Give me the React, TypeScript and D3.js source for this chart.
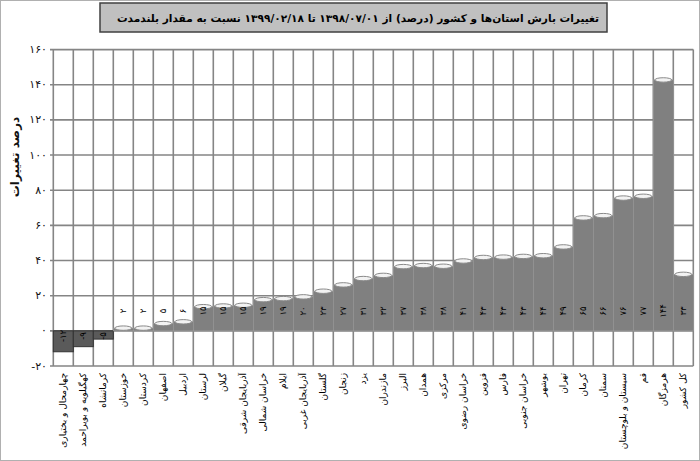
import React from "react";
import * as d3 from "d3";

const categories = [
  "چهارمحال و بختیاری", "کهگیلویه و بویراحمد", "کرمانشاه", "خوزستان", "کردستان",
  "اصفهان", "اردبیل", "لرستان", "گیلان", "آذربایجان شرقی", "خراسان شمالی", "ایلام",
  "آذربایجان غربی", "گلستان", "زنجان", "یزد", "مازندران", "البرز", "همدان", "مرکزی",
  "خراسان رضوی", "قزوین", "فارس", "خراسان جنوبی", "بوشهر", "تهران", "کرمان", "سمنان",
  "سیستان و بلوچستان", "قم", "هرمزگان", "کل کشور",
];
const values = [
  -11.9, -9, -4.7, 2.4, 2.4, 5, 6, 14.6, 15.0, 15.4, 18.6, 19.2,
  20.2, 23.4, 27, 30.6, 32.4, 37.4, 38, 37.6, 40.6, 42.6, 42.8, 43.2,
  43.6, 48.6, 65.1, 66.4, 76.4, 77.4, 143.6, 33,
];
const yTicks = [-20, 0, 20, 40, 60, 80, 100, 120, 140, 160];
const title = "تغییرات بارش استان‌ها و کشور (درصد) از ۱۳۹۸/۰۷/۰۱ تا ۱۳۹۹/۰۲/۱۸ نسبت به مقدار بلندمدت";
const yTitle = "درصد تغییرات";

const fa = (s: string) => s.replace(/[0-9]/g, (c) => "۰۱۲۳۴۵۶۷۸۹"[+c]);
const FONT = "DejaVu Sans";

export default function App() {
  const W = 700, H = 461;
  const x = d3.scaleBand().domain(categories).range([53.3, 693.3]).padding(0);
  const y = d3.scaleLinear().domain([-20, 160]).range([366, 49.6]);
  const bw = x.bandwidth();
  const grid = "#858585";
  return (
    <svg width={W} height={H} style={{ position: "absolute", left: 0, top: 0, background: "#fff" }} fontFamily={FONT}>
      <rect x={0.5} y={0.5} width={W - 1} height={H - 1} fill="#fff" stroke="#b0b0b0" />
      {/* title */}
      <rect x={100} y={3} width={507} height={29} fill="#c0c0c0" stroke="#404040" strokeWidth={1.5} />
      <text x={358} y={18} textAnchor="middle" dominantBaseline="central" direction="rtl" fontSize={10.6} fontWeight="bold" fill="#000">{title}</text>
      {/* grid */}
      {yTicks.map((t) => (
        <g key={"h" + t}>
          <line x1={50} x2={693.3} y1={y(t)} y2={y(t)} stroke={grid} strokeWidth={1.6} />
          <text x={47} y={y(t)} textAnchor="end" dominantBaseline="central" fontSize={11} fill="#111">{t < 0 ? "-" + fa(String(-t)) : fa(String(t))}</text>
        </g>
      ))}
      {d3.range(categories.length + 1).map((i) => {
        const xx = 53.3 + i * bw;
        return <line key={"v" + i} x1={xx} x2={xx} y1={y(160)} y2={y(-20)} stroke={grid} strokeWidth={1.6} />;
      })}
      {/* bars */}
      {categories.map((c, i) => {
        const v = values[i];
        const x0 = x(c)!;
        const cx = x0 + bw / 2;
        if (v < 0) {
          return (
            <rect key={c} x={x0} y={y(0)} width={bw} height={y(v) - y(0)} fill="#5a5a5a" stroke="#333" strokeWidth={1} />
          );
        }
        const top = y(v) + 1.5;
        return (
          <g key={c}>
            <rect x={x0} y={top} width={bw} height={y(0) - top} fill="#808080" stroke="#9a9a9a" strokeWidth={0.6} />
            <ellipse cx={cx} cy={top} rx={bw / 2 - 1.5} ry={2.2} fill="#f2f2f2" stroke="#8a8a8a" strokeWidth={1} />
          </g>
        );
      })}
      {/* value labels */}
      {categories.map((c, i) => {
        const v = values[i];
        const cx = x(c)! + bw / 2;
        const ly = v < 0 ? 336 : 311;
        const r = Math.round(v);
        const lab = r < 0 ? "-" + fa(String(-r)) : fa(String(r));
        return (
          <text key={"l" + c} transform={`translate(${cx},${ly}) rotate(-90)`} textAnchor="middle" dominantBaseline="central" fontSize={8.5} fill="#000">{lab}</text>
        );
      })}
      {/* x labels */}
      {categories.map((c) => {
        const cx = x(c)! + bw / 2;
        return (
          <text key={"x" + c} transform={`translate(${cx},373) rotate(-90)`} textAnchor="end" dominantBaseline="central" fontSize={9} fill="#000">{c}</text>
        );
      })}
      {/* y title */}
      <text transform={`translate(15,157) rotate(-90)`} textAnchor="middle" dominantBaseline="central" fontSize={12} fontWeight="bold" fill="#111">{yTitle}</text>
    </svg>
  );
}
